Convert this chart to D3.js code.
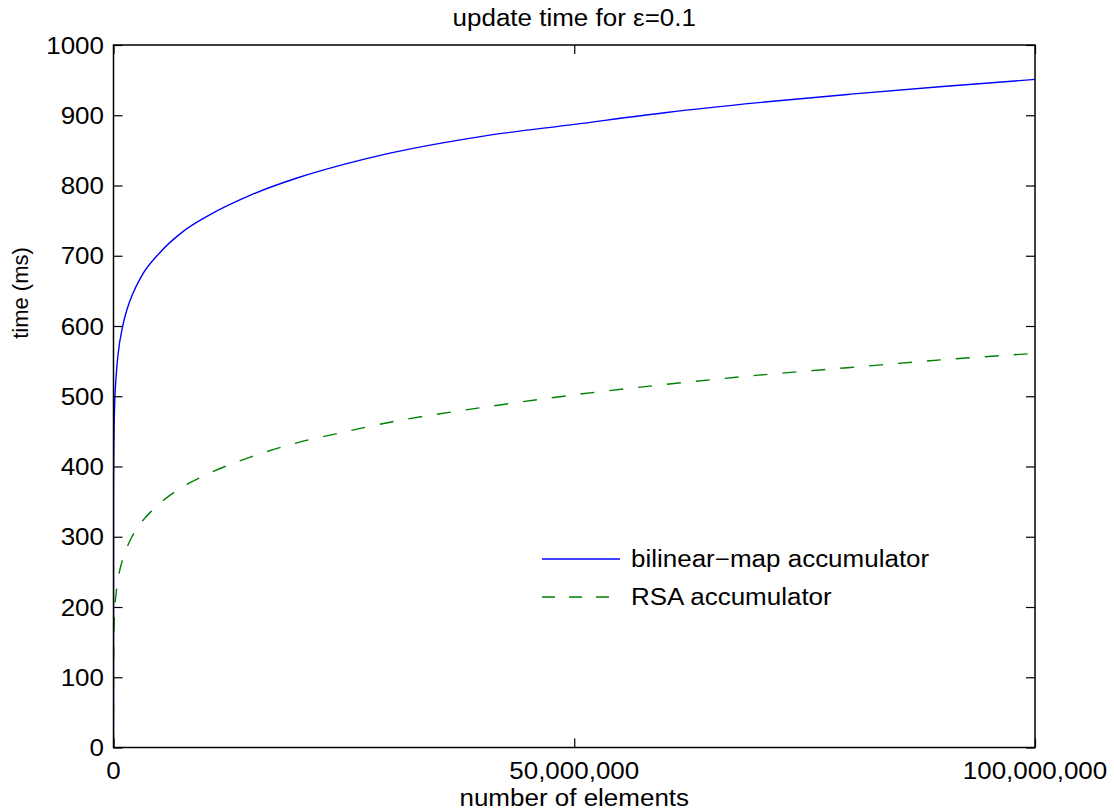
<!DOCTYPE html>
<html>
<head>
<meta charset="utf-8">
<script src="https://cdnjs.cloudflare.com/ajax/libs/d3/7.8.5/d3.min.js"></script>
<style>
  body { margin: 0; background: #fff; }
  svg text { font-family: "Liberation Sans", Arial, sans-serif; fill: #000; }
</style>
</head>
<body>
<svg id="chart" width="1114" height="811"></svg>
<script>
// number of elements (x)
var elements = [0, 1e3, 1e4, 1e5, 3e5, 5e5, 1e6, 1.5e6, 2e6, 3e6, 5e6, 7.5e6, 1e7, 1.5e7, 2e7,
                2.5e7, 3e7, 4e7, 5e7, 6e7, 7e7, 8e7, 9e7, 1e8];
// update time (ms), bilinear-map accumulator
var bilinearTimes = [0, 300, 378, 476, 531, 560, 600, 625, 643, 670, 704, 734, 755, 787, 811,
                     830, 846, 870, 887, 904, 918, 930, 941, 951];
// update time (ms), RSA accumulator
var rsaTimes = [0, 89, 128, 186, 221, 240, 268, 286, 300, 320, 347, 371, 388, 414, 434,
                449, 463, 484, 502, 517, 530, 541, 552, 561];

var seriesNames = ["bilinear\u2212map accumulator", "RSA accumulator"];
var yTicks = [0, 100, 200, 300, 400, 500, 600, 700, 800, 900, 1000];
var xTicks = [0, 50000000, 100000000];

var svg = d3.select('#chart');

// plot box (note: "top" is taken by window.top, so use other names)
var boxL = 113.5, boxR = 1035, boxT = 45, boxB = 747.5,
    fontSize = 23, stretch = 1.13, tickLen = 9;

var x = d3.scaleLinear().domain([0, 1e8]).range([boxL, boxR]),
    y = d3.scaleLinear().domain([0, 1000]).range([boxB, boxT]);

// text in the picture is a bit wider than Arial, so stretch it horizontally
function label(px, py, str, anchor, rotate) {
    return svg.append('text')
        .attr('transform', 'translate(' + px + ',' + py + ')' +
              (rotate ? ' rotate(-90)' : ' scale(' + stretch + ',1)'))
        .attr('text-anchor', anchor)
        .style('font-size', (rotate ? 22 : fontSize) + 'px')
        .text(str);
}

svg.append('clipPath').attr('id', 'plotClip')
    .append('rect').attr('x', boxL).attr('y', boxT - 2)
    .attr('width', boxR - boxL + 2).attr('height', boxB - boxT + 4);

// lines
var data = elements.map(function(n, i) { return { n: n, a: bilinearTimes[i], b: rsaTimes[i] }; });

var lineA = d3.line().x(function(d) { return x(d.n); }).y(function(d) { return y(d.a); })
              .curve(d3.curveMonotoneX),
    lineB = d3.line().x(function(d) { return x(d.n); }).y(function(d) { return y(d.b); })
              .curve(d3.curveMonotoneX);

var plot = svg.append('g').attr('clip-path', 'url(#plotClip)');
plot.append('path').datum(data).attr('d', lineA)
    .attr('fill', 'none').attr('stroke', '#0000ff').attr('stroke-width', 1.4);
plot.append('path').datum(data).attr('d', lineB)
    .attr('fill', 'none').attr('stroke', '#008000').attr('stroke-width', 1.4)
    .attr('stroke-dasharray', '14,15');

// axes: ticks inside on all four sides
var fmt = d3.format(',');
svg.append('g').attr('transform', 'translate(' + boxL + ',0)')
    .call(d3.axisLeft(y).tickValues(yTicks).tickSize(-tickLen).tickFormat(''));
svg.append('g').attr('transform', 'translate(' + boxR + ',0)')
    .call(d3.axisRight(y).tickValues(yTicks).tickSize(-tickLen).tickFormat(''));
svg.append('g').attr('transform', 'translate(0,' + boxB + ')')
    .call(d3.axisBottom(x).tickValues(xTicks).tickSize(-tickLen).tickFormat(''));
svg.append('g').attr('transform', 'translate(0,' + boxT + ')')
    .call(d3.axisTop(x).tickValues(xTicks).tickSize(-tickLen).tickFormat(''));
svg.selectAll('.domain').remove();
svg.selectAll('.tick line').attr('stroke', '#000').attr('stroke-width', 1.2);

svg.append('rect').attr('x', boxL).attr('y', boxT)
    .attr('width', boxR - boxL).attr('height', boxB - boxT)
    .attr('fill', 'none').attr('stroke', '#000').attr('stroke-width', 1.5);

// tick labels
yTicks.forEach(function(v) { label(104, y(v) + 8.5, String(v), 'end'); });
xTicks.forEach(function(v) { label(x(v), 779, fmt(v), 'middle'); });

// titles
label((boxL + boxR) / 2, 26, 'update time for \u03b5=0.1', 'middle');
label((boxL + boxR) / 2, 806, 'number of elements', 'middle');
label(28, 293, 'time (ms)', 'middle', true);

// legend
var legendY = [559, 597];
svg.append('line').attr('x1', 542).attr('x2', 620).attr('y1', legendY[0]).attr('y2', legendY[0])
    .attr('stroke', '#0000ff').attr('stroke-width', 1.4);
svg.append('line').attr('x1', 542).attr('x2', 620).attr('y1', legendY[1]).attr('y2', legendY[1])
    .attr('stroke', '#008000').attr('stroke-width', 1.4).attr('stroke-dasharray', '13,14');
label(631, legendY[0] + 8, seriesNames[0], 'start');
label(631, legendY[1] + 8, seriesNames[1], 'start');
</script>
</body>
</html>
